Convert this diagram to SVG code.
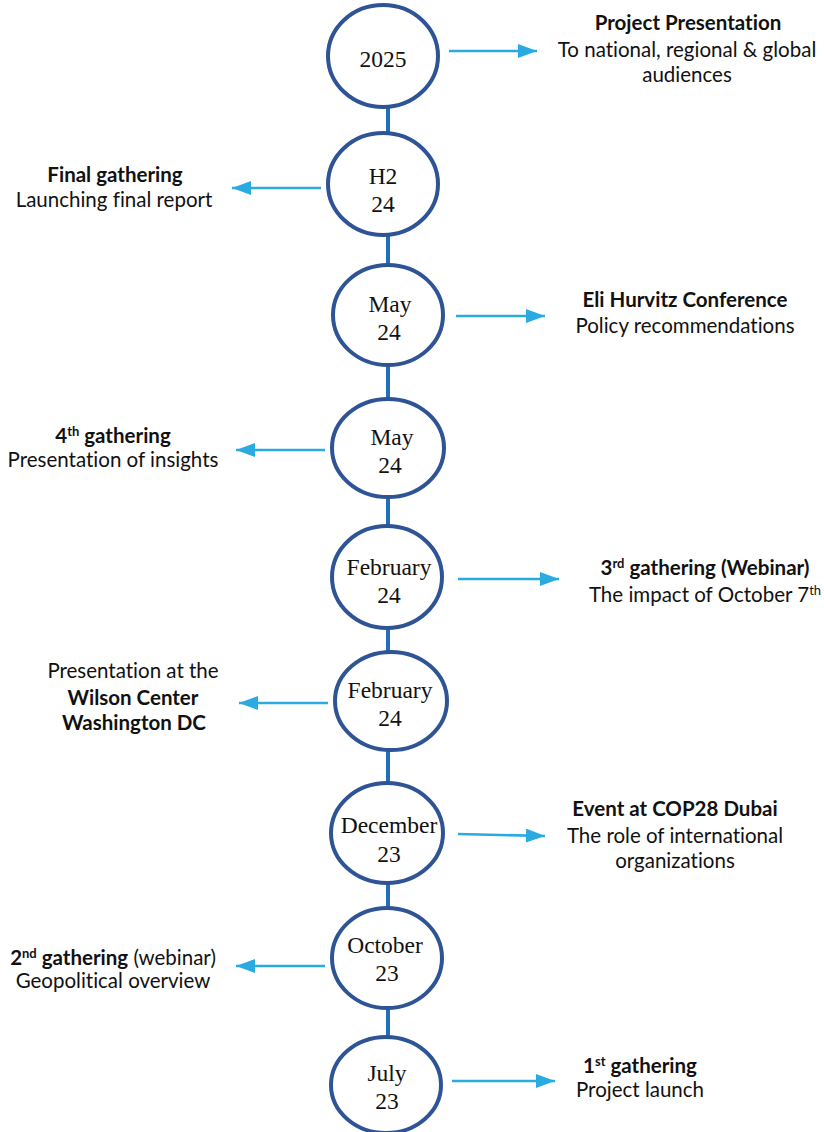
<svg xmlns="http://www.w3.org/2000/svg" width="824" height="1132" viewBox="0 0 824 1132">
<style>
.node ellipse{fill:#fff;stroke:#2f5496;stroke-width:4}
.lbl{font-family:"Liberation Serif",serif;font-size:23.5px;fill:#111;text-anchor:middle}
.t{font-family:Lato,"Liberation Sans",sans-serif;font-size:20.5px;fill:#111;text-anchor:middle;font-variant-ligatures:none;font-feature-settings:"liga" 0,"dlig" 0}
.b{font-weight:bold}
.sup{font-size:13px}
.spine{stroke:#1f6fba;stroke-width:4;fill:none}
.arr{stroke:#29abe2;stroke-width:2.6;fill:none;marker-end:url(#ah)}
</style>
<defs>
<marker id="ah" markerUnits="userSpaceOnUse" markerWidth="20" markerHeight="16" refX="19" refY="7" orient="auto">
<path d="M0,0 L19,7 L0,14 Z" fill="#29abe2"/>
</marker>
</defs>
<g id="connectors">
<line class="spine" x1="388" y1="100" x2="388" y2="1040"/>
<line class="arr" x1="449" y1="51" x2="537" y2="51"/>
<line class="arr" x1="321" y1="188" x2="232" y2="188"/>
<line class="arr" x1="456" y1="316" x2="545" y2="316"/>
<line class="arr" x1="325" y1="450" x2="236" y2="450"/>
<line class="arr" x1="458" y1="579" x2="559" y2="579"/>
<line class="arr" x1="328" y1="703" x2="239" y2="703"/>
<line class="arr" x1="458" y1="834" x2="545" y2="836"/>
<line class="arr" x1="325" y1="966" x2="236" y2="966"/>
<line class="arr" x1="452" y1="1081" x2="555" y2="1081"/>
</g>
<g id="n2025" class="node"><ellipse cx="383" cy="56" rx="55" ry="51"/><text class="lbl" x="383" y="67">2025</text></g>
<g id="nH2" class="node"><ellipse cx="383" cy="184" rx="55" ry="51"/><text class="lbl" x="383" y="184">H2</text><text class="lbl" x="383" y="212">24</text></g>
<g id="nMay1" class="node"><ellipse cx="388" cy="315" rx="55" ry="50"/><text class="lbl" x="390" y="312">May</text><text class="lbl" x="389" y="340">24</text></g>
<g id="nMay2" class="node"><ellipse cx="388" cy="448" rx="56" ry="49"/><text class="lbl" x="392" y="445">May</text><text class="lbl" x="390" y="473">24</text></g>
<g id="nFeb1" class="node"><ellipse cx="387" cy="577" rx="55" ry="51"/><text class="lbl" x="389" y="575">February</text><text class="lbl" x="389" y="603">24</text></g>
<g id="nFeb2" class="node"><ellipse cx="391" cy="701" rx="56" ry="49"/><text class="lbl" x="390" y="698">February</text><text class="lbl" x="390" y="726">24</text></g>
<g id="nDec" class="node"><ellipse cx="387" cy="833" rx="56" ry="50"/><text class="lbl" x="389" y="833">December</text><text class="lbl" x="389" y="862">23</text></g>
<g id="nOct" class="node"><ellipse cx="387" cy="958" rx="55" ry="50"/><text class="lbl" x="385" y="953">October</text><text class="lbl" x="387" y="981">23</text></g>
<g id="nJul" class="node"><ellipse cx="386" cy="1085" rx="55" ry="48"/><text class="lbl" x="387" y="1081">July</text><text class="lbl" x="387" y="1109">23</text></g>
<g id="t2025"><text class="t b" x="688" y="30">Project Presentation</text><text class="t" x="687" y="57">To national, regional &amp; global</text><text class="t" x="687" y="82">audiences</text></g>
<g id="tH2"><text class="t b" x="115" y="182">Final gathering</text><text class="t" x="114" y="207">Launching final report</text></g>
<g id="tMay1"><text class="t b" x="685" y="307">Eli Hurvitz Conference</text><text class="t" x="685" y="333">Policy recommendations</text></g>
<g id="tMay2"><text class="t" x="113" y="443"><tspan class="b">4</tspan><tspan class="b sup" dy="-7">th</tspan><tspan class="b" dy="7"> gathering</tspan></text><text class="t" x="113" y="467">Presentation of insights</text></g>
<g id="tFeb1"><text class="t" x="705" y="575"><tspan class="b">3</tspan><tspan class="b sup" dy="-7">rd</tspan><tspan class="b" dy="7"> gathering (Webinar)</tspan></text><text class="t" x="705" y="602">The impact of October 7<tspan class="sup" dy="-7">th</tspan></text></g>
<g id="tFeb2"><text class="t" x="133" y="678">Presentation at the</text><text class="t b" x="133" y="705">Wilson Center</text><text class="t b" x="134" y="730">Washington DC</text></g>
<g id="tDec"><text class="t b" x="675" y="816">Event at COP28 Dubai</text><text class="t" x="675" y="843">The role of international</text><text class="t" x="675" y="868">organizations</text></g>
<g id="tOct"><text class="t" x="113" y="965"><tspan class="b">2</tspan><tspan class="b sup" dy="-7">nd</tspan><tspan class="b" dy="7"> gathering</tspan> (webinar)</text><text class="t" x="113" y="988">Geopolitical overview</text></g>
<g id="tJul"><text class="t" x="640" y="1073"><tspan class="b">1</tspan><tspan class="b sup" dy="-7">st</tspan><tspan class="b" dy="7"> gathering</tspan></text><text class="t" x="640" y="1097">Project launch</text></g>
</svg>
